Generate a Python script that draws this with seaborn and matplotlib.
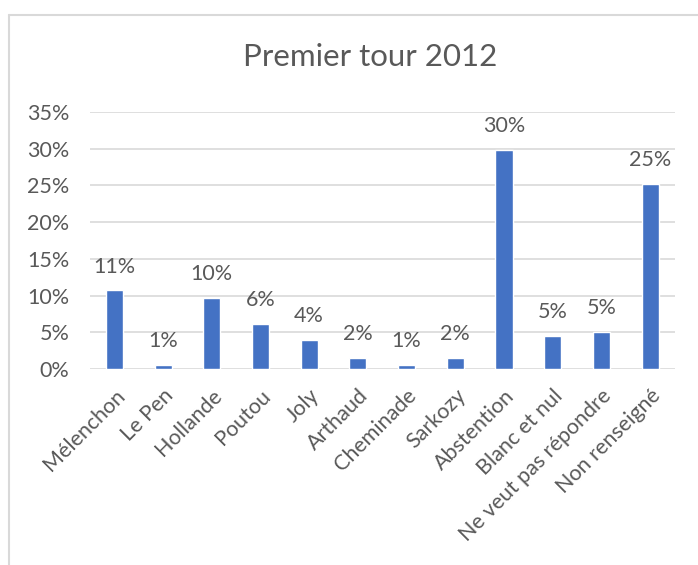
import math
import matplotlib
matplotlib.use("Agg")
import matplotlib.pyplot as plt
from matplotlib.lines import Line2D
import seaborn as sns
import pandas as pd

categories = ["Mélenchon", "Le Pen", "Hollande", "Poutou", "Joly", "Arthaud",
              "Cheminade", "Sarkozy", "Abstention", "Blanc et nul",
              "Ne veut pas répondre", "Non renseigné"]
values = [10.7, 0.5, 9.7, 6.1, 4.0, 1.5, 0.5, 1.5, 29.8, 4.5, 5.1, 25.2]
yticks = [0, 5, 10, 15, 20, 25, 30, 35]
title = "Premier tour 2012"

sns.set_theme(style="white")
plt.rcParams["font.family"] = ["Lato", "DejaVu Sans"]

TXT = "#595959"
GRID = "#d9d9d9"
BAR = "#4472C4"
FS = 15.5

fig = plt.figure(figsize=(6.98, 5.65), dpi=100)
ax = fig.add_axes([90/698, 1-369/565, (674.5-90)/698, (369-112)/565])

df = pd.DataFrame({"cat": categories, "val": values})
sns.barplot(data=df, x="cat", y="val", color=BAR, width=0.35, saturation=1,
            ax=ax, zorder=3)

ax.set_ylim(0, 35)
ax.set_xlim(-0.5, len(categories) - 0.5)
ax.set_yticks(yticks)
ax.set_yticklabels([f"{t}%" for t in yticks], color=TXT, fontsize=FS)
ax.yaxis.grid(True, color=GRID, linewidth=1.2, zorder=0)
ax.set_axisbelow(True)
for s in ax.spines.values():
    s.set_visible(False)
ax.tick_params(axis="y", length=0, pad=15)
ax.set_xlabel("")
ax.set_ylabel("")
ax.set_xticks(range(len(categories)))
ax.set_xticklabels(categories, rotation=45, ha="right", va="top",
                   rotation_mode="anchor", color=TXT, fontsize=FS)
ax.tick_params(axis="x", length=0, pad=12)

labels = [f"{math.floor(v + 0.5)}%" for v in values]
ax.bar_label(ax.containers[0], labels=labels, padding=10, color=TXT, fontsize=FS)

fig.text(370/698, 1 - 57/565, title, ha="center", va="center",
         color=TXT, fontsize=22.5)

# chart border
fig.add_artist(Line2D([9/698, 9/698], [0, 1 - 15/565], color=GRID, linewidth=1.5,
                      transform=fig.transFigure))
fig.add_artist(Line2D([9/698, 1], [1 - 15/565, 1 - 15/565], color=GRID, linewidth=1.5,
                      transform=fig.transFigure))

fig.savefig("out.png", dpi=100, facecolor="white")
